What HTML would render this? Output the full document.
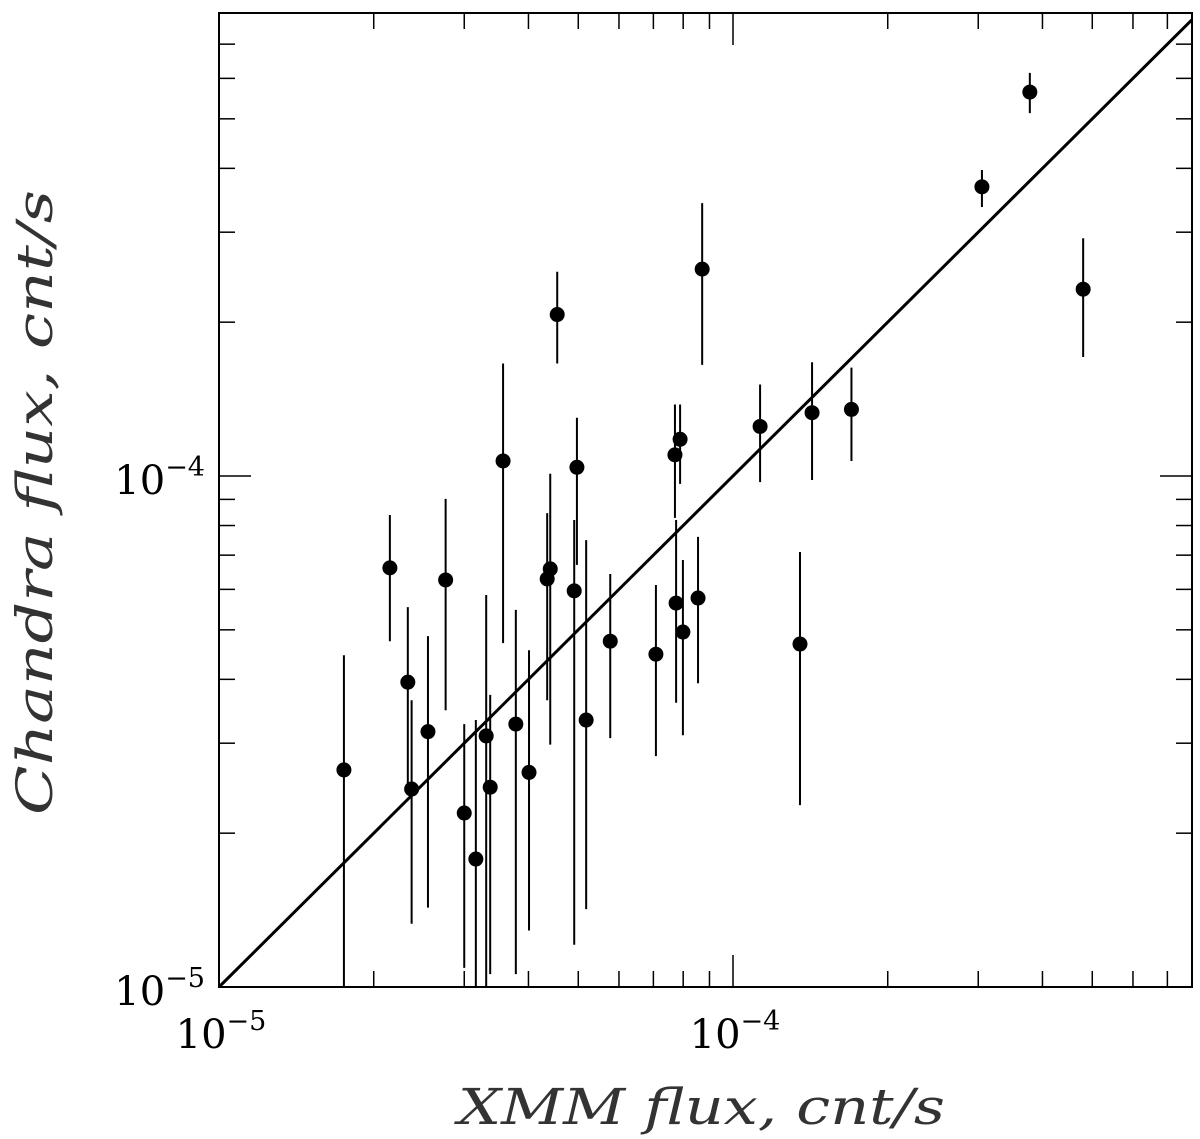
<!DOCTYPE html>
<html><head><meta charset="utf-8"><style>
html,body{margin:0;padding:0;background:#fff;}
svg{display:block;}
text{font-family:"DejaVu Serif","Liberation Serif",serif;fill:#000;}
.title{font-style:italic;fill:#333;font-size:50px;font-family:"DejaVu Serif",serif;}
</style></head><body>
<svg id="chart" width="1200" height="1139" xmlns="http://www.w3.org/2000/svg"></svg>
<script>
const xmmFlux = [1.75e-5,2.15e-5,2.33e-5,2.37e-5,2.55e-5,2.76e-5,3.00e-5,3.16e-5,3.31e-5,3.37e-5,3.57e-5,3.78e-5,4.01e-5,4.35e-5,4.41e-5,4.55e-5,4.91e-5,4.97e-5,5.18e-5,5.77e-5,7.08e-5,7.71e-5,7.75e-5,7.89e-5,7.99e-5,8.55e-5,8.71e-5,1.129e-4,1.35e-4,1.425e-4,1.70e-4,3.05e-4,3.78e-4,4.80e-4];
const chandraFlux = [2.66e-5,6.61e-5,3.95e-5,2.44e-5,3.16e-5,6.26e-5,2.19e-5,1.78e-5,3.10e-5,2.46e-5,1.07e-4,3.27e-5,2.63e-5,6.29e-5,6.58e-5,2.07e-4,5.96e-5,1.04e-4,3.33e-5,4.75e-5,4.48e-5,1.10e-4,5.64e-5,1.18e-4,4.95e-5,5.77e-5,2.54e-4,1.25e-4,4.69e-5,1.33e-4,1.35e-4,3.68e-4,5.64e-4,2.32e-4];
const chandraHigh = [4.46e-5,8.39e-5,5.54e-5,3.64e-5,4.86e-5,9.02e-5,3.27e-5,3.33e-5,5.85e-5,3.73e-5,1.66e-4,5.47e-5,4.56e-5,8.46e-5,1.01e-4,2.51e-4,8.20e-5,1.30e-4,7.49e-5,6.43e-5,6.12e-5,1.38e-4,8.20e-5,1.38e-4,6.85e-5,7.60e-5,3.42e-4,1.51e-4,7.10e-5,1.67e-4,1.63e-4,3.97e-4,6.15e-4,2.92e-4];
const chandraLow = [1.0e-5,4.75e-5,2.44e-5,1.33e-5,1.43e-5,3.48e-5,1.09e-5,1.0e-5,1.0e-5,1.06e-5,4.71e-5,1.06e-5,1.29e-5,3.64e-5,2.98e-5,1.66e-4,1.21e-5,6.70e-5,1.42e-5,3.07e-5,2.83e-5,8.28e-5,3.60e-5,9.65e-5,3.11e-5,3.93e-5,1.65e-4,9.73e-5,2.27e-5,9.82e-5,1.07e-4,3.36e-4,5.13e-4,1.71e-4];
const xMinorTicks = [2e-5,3e-5,4e-5,5e-5,6e-5,7e-5,8e-5,9e-5,2e-4,3e-4,4e-4,5e-4,6e-4,7e-4];
const xMajorTicks = [1e-5,1e-4];
const xTickLabels = ["10","10"];
const yMinorTicks = [2e-5,3e-5,4e-5,5e-5,6e-5,7e-5,8e-5,9e-5,2e-4,3e-4,4e-4,5e-4,6e-4,7e-4];
const yMajorTicks = [1e-5,1e-4];
const tickExponents = ["\u22125","\u22124"];

const L=219,R=1192,T=13,B=987;
const X=v=>L+(Math.log10(v)+5)*514;
const Y=v=>B-(Math.log10(v)+5)*511;
const svg=document.getElementById('chart');
const NS='http://www.w3.org/2000/svg';
function mk(tag,attrs,parent){const e=document.createElementNS(NS,tag);for(const k in attrs)e.setAttribute(k,attrs[k]);(parent||svg).appendChild(e);return e;}

const frame=mk('rect',{x:L,y:T,width:R-L,height:B-T,fill:'none',stroke:'#000','stroke-width':2});



const ticks=mk('g',{stroke:'#000','stroke-width':1.5});


xMinorTicks.forEach(v=>{const x=X(v);mk('line',{x1:x,x2:x,y1:B,y2:B-16},ticks);mk('line',{x1:x,x2:x,y1:T,y2:T+16},ticks);});
xMajorTicks.forEach(v=>{const x=X(v);mk('line',{x1:x,x2:x,y1:B,y2:B-32},ticks);mk('line',{x1:x,x2:x,y1:T,y2:T+32},ticks);});
yMinorTicks.forEach(v=>{const y=Y(v);mk('line',{x1:L,x2:L+16,y1:y,y2:y},ticks);mk('line',{x1:R,x2:R-16,y1:y,y2:y},ticks);});
yMajorTicks.forEach(v=>{const y=Y(v);mk('line',{x1:L,x2:L+32,y1:y,y2:y},ticks);mk('line',{x1:R,x2:R-32,y1:y,y2:y},ticks);});

xMajorTicks.forEach((v,i)=>{
  const t=mk('text',{x:X(v)+2,y:1048,'text-anchor':'middle','font-size':40});
  
  
  t.textContent=xTickLabels[i];
  const s=mk('tspan',{dy:-18,'font-size':27},t);s.textContent=tickExponents[i];
});
yMajorTicks.forEach((v,i)=>{
  const t=mk('text',{x:205,y:Y(v)+18,'text-anchor':'end','font-size':40});
  
  
  t.textContent=xTickLabels[i];
  const s=mk('tspan',{dy:-18,'font-size':27},t);s.textContent=tickExponents[i];
});

const diag=mk('line',{x1:X(1e-5),y1:Y(1e-5),x2:R,y2:Y(Math.pow(10,(R-L)/514-5)),stroke:'#000','stroke-width':3});



const pts=mk('g',{});


xmmFlux.forEach((xv,i)=>{
  const x=X(xv);
  const eb=mk('line',{x1:x,x2:x,y1:Y(chandraHigh[i]),y2:Math.min(B,Y(chandraLow[i])),stroke:'#000','stroke-width':2},pts);
  
  
  const c=mk('circle',{cx:x,cy:Y(chandraFlux[i]),r:7.5,fill:'#000'},pts);
  
  
});

const xt=mk('text',{x:458,y:1124,class:'title',textLength:487,lengthAdjust:'spacingAndGlyphs'});


xt.textContent='XMM  flux,  cnt/s';
const yt=mk('text',{x:0,y:0,class:'title',textLength:625,lengthAdjust:'spacingAndGlyphs',transform:'translate(52,815) rotate(-90)'});


yt.textContent='Chandra  flux,  cnt/s';
</script>
</body></html>
